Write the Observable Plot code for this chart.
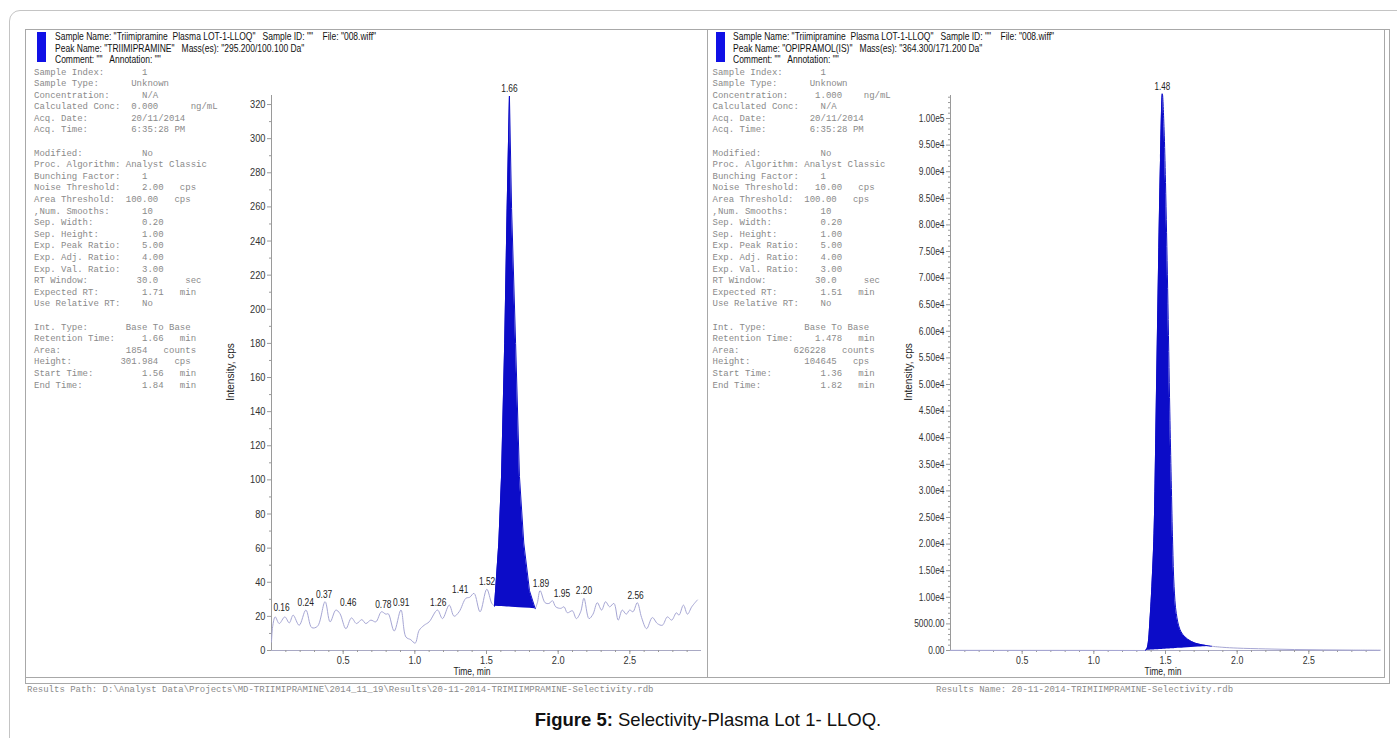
<!DOCTYPE html>
<html><head><meta charset="utf-8">
<script src="https://cdn.jsdelivr.net/npm/d3@7"></script>
<script src="https://cdn.jsdelivr.net/npm/@observablehq/plot@0.6"></script>
<style>
body{margin:0;background:#fff;overflow:hidden}
#root{position:relative;width:1397px;height:738px;overflow:hidden;font-family:"Liberation Sans",Arial,sans-serif}
.abs{position:absolute}
.frame{left:9px;top:10px;width:1420px;height:760px;border:1px solid #c4c4c4;border-radius:11px;box-sizing:border-box}
.box{border:1px solid #a8a8a8;box-sizing:border-box}
.blue{background:#1010e6}
.hdr{font-family:"Liberation Sans",sans-serif;font-size:10.5px;line-height:11.6px;color:#111;white-space:pre;transform:scaleX(0.81);transform-origin:0 0}
.mono{font-family:"Liberation Mono",monospace;font-size:9px;line-height:11.6px;color:#8a8a8a;white-space:pre}
.foot{font-family:"Liberation Mono",monospace;font-size:9px;color:#8a8a8a;white-space:pre}
.axl{font-family:"Liberation Sans",sans-serif;font-size:10px;color:#222;white-space:pre}
.cap{font-family:"Liberation Sans",Arial,sans-serif;font-size:18.5px;line-height:22px;color:#111;white-space:pre;width:1416px;text-align:center;left:0}
.plot{position:absolute}
</style></head>
<body><div id="root"></div>
<script>
// ---------- data ----------
// Left panel: TRIIMIPRAMINE trace (time, min / intensity, cps)
const leftPreTime = [0.000,0.008,0.026,0.054,0.093,0.124,0.151,0.193,0.240,0.281,0.321,0.374,0.409,0.449,0.477,0.519,0.558,0.593,0.630,0.658,0.693,0.728,0.767,0.798,0.815,0.856,0.903,0.938,0.972,1.002,1.030,1.065,1.100,1.158,1.193,1.240,1.274,1.309,1.356,1.383,1.413,1.455,1.502,1.537,1.556];
const leftPreInt  = [5,14,19.7,15.8,19.7,16.2,20.7,14.8,23.7,13.4,14.2,28.6,16.8,23.7,21.7,12.8,19.1,15.8,18.1,15.8,17.8,16.8,22.7,21.3,21.5,11.4,23.7,7.9,6.3,4.3,11.8,14.8,16.8,23.7,18.7,26.6,20.1,22.7,30.6,31.2,33.5,22.7,35.9,27.6,26];
const leftPeakTime = [1.556,1.586,1.605,1.627,1.644,1.660,1.675,1.703,1.730,1.760,1.800,1.840];
const leftPeakInt  = [26,63,102,180,259,325,259,180,102,63,35,24.5];
const leftPostTime = [1.840,1.855,1.874,1.909,1.937,1.960,1.983,2.018,2.041,2.064,2.099,2.127,2.157,2.180,2.215,2.243,2.273,2.303,2.331,2.359,2.389,2.419,2.447,2.475,2.499,2.522,2.552,2.582,2.617,2.657,2.692,2.727,2.762,2.792,2.825,2.843,2.874,2.902,2.932,2.971];
const leftPostInt  = [24.5,28,35.1,28,27.6,29.2,25.6,24.7,25.6,22.1,23.3,18.7,22.7,30.6,18.7,21.3,28,23.7,28.6,25.6,27.6,17.8,23.7,21.3,23.7,22.7,28,19.3,12.8,19.3,15.8,14.8,19.7,17.8,22.1,20.7,26.6,21.3,25.6,29.6];
const leftLabels      = ["0.16","0.24","0.37","0.46","0.78","0.91","1.26","1.41","1.52","1.66","1.89","1.95","2.20","2.56"];
const leftLabelTime   = [0.07,0.239,0.367,0.535,0.78,0.905,1.163,1.316,1.504,1.66,1.88,2.026,2.18,2.54];
const leftLabelLevel  = [20.7,23.7,28.6,23.7,22.7,23.7,23.7,31.2,35.9,325,35.1,29.2,30.6,28];
const leftYTicks = [0,20,40,60,80,100,120,140,160,180,200,220,240,260,280,300,320];

// Right panel: OPIPRAMOL(IS) trace
const rightPreTime = [0.0,0.5,1.0,1.36];
const rightPreInt  = [30,25,20,0];
const rightPeakTime = [1.36,1.37,1.38,1.39,1.405,1.42,1.435,1.45,1.465,1.478,1.49,1.50,1.515,1.53,1.54,1.55,1.56,1.575,1.60,1.63,1.68,1.73,1.79,1.82];
const rightPeakInt  = [0,300,1500,5000,12000,22000,45000,70000,92000,104645,98000,88000,68000,45000,32000,20000,12000,7000,4000,2700,1700,1200,900,800];
const rightPostTime = [1.82,1.90,2.00,2.20,2.40,2.60,2.80,3.00];
const rightPostInt  = [800,600,450,300,180,120,80,60];
const rightLabels     = ["1.48"];
const rightLabelTime  = [1.478];
const rightLabelLevel = [104645];
const rightYTicks = d3.range(0, 100001, 5000);

const xTicks = [0.5,1.0,1.5,2.0,2.5];
const xMinorTicks = d3.range(1, 30).map(i => i / 10);

// ---------- helpers ----------
const rows = (ts, vs) => ts.map((t, i) => ({t, v: vs[i]}));
const withBase = (ts, vs) => {
  const t0 = ts[0], t1 = ts[ts.length - 1], b0 = vs[0], b1 = vs[vs.length - 1];
  return ts.map((t, i) => ({t, v: vs[i], base: b0 + (b1 - b0) * (t - t0) / (t1 - t0)}));
};
const labelRows = (txt, ts, vs) => txt.map((s, i) => ({s, t: ts[i], v: vs[i]}));
const fmtRight = v => {
  if (v === 0) return "0.00";
  if (v < 10000) return v.toFixed(2);
  const e = Math.floor(Math.log10(v));
  return (v / Math.pow(10, e)).toFixed(2) + "e" + e;
};
// condense svg texts horizontally (source font is a narrow sans)
function condense(svg, k) {
  svg.querySelectorAll("text").forEach(t => {
    const tr = t.getAttribute("transform");
    if (tr && tr.includes("translate")) t.setAttribute("transform", tr + ` scale(${k},1)`);
  });
}

const TRACE = "#a6a6d4", PEAK = "#0c0cc8", AXIS = "#9a9a9a";
const tickFont = {fontFamily: '"Liberation Sans",sans-serif', fontSize: "11px", color: "#333", background: "transparent", overflow: "visible"};

const root = document.getElementById("root");
function add(cls, css, text) {
  const d = document.createElement("div");
  d.className = "abs " + cls;
  Object.assign(d.style, css);
  if (text != null) d.textContent = text;
  root.appendChild(d);
  return d;
}

// frames
add("frame", {});
add("box", {left: "25px", top: "29px", width: "1365px", height: "655px"});
add("box", {left: "25px", top: "29px", width: "683px", height: "649px"});
add("box", {left: "707px", top: "29px", width: "678px", height: "649px"});

// ---------- left plot ----------
const leftPlot = Plot.plot({
  width: 495, height: 605,
  marginLeft: 56, marginRight: 9, marginTop: 20, marginBottom: 30,
  x: {domain: [0, 3.0]},
  y: {domain: [0, 325.3]},
  style: tickFont,
  marks: [
    Plot.ruleX([0], {stroke: AXIS}),
    Plot.ruleY([0], {stroke: "#a9a9c4"}),
    Plot.axisY({ticks: leftYTicks, tickSize: 4, tickPadding: 2, stroke: AXIS, label: null, tickFormat: d => String(d)}),
    Plot.axisY({ticks: d3.range(10, 321, 20), tickSize: 2, text: null, stroke: AXIS, label: null}),
    Plot.axisX({ticks: xTicks, tickSize: 4, tickPadding: 2, stroke: AXIS, label: null, tickFormat: d => d.toFixed(1)}),
    Plot.axisX({ticks: xMinorTicks, tickSize: 2, text: null, stroke: AXIS, label: null}),
    Plot.line(rows(leftPreTime, leftPreInt), {x: "t", y: "v", stroke: TRACE, strokeWidth: 1, curve: "catmull-rom"}),
    Plot.line(rows(leftPostTime, leftPostInt), {x: "t", y: "v", stroke: TRACE, strokeWidth: 1, curve: "catmull-rom"}),
    Plot.areaY(withBase(leftPeakTime, leftPeakInt), {x: "t", y1: "base", y2: "v", fill: PEAK}),
    Plot.line(rows(leftPeakTime, leftPeakInt), {x: "t", y: "v", stroke: PEAK, strokeWidth: 1}),
    Plot.text(labelRows(leftLabels, leftLabelTime, leftLabelLevel), {x: "t", y: "v", text: "s", dy: -4, lineAnchor: "bottom", fill: "#222", fontSize: 10})
  ]
});
condense(leftPlot, 0.84);
leftPlot.classList.add("plot");
Object.assign(leftPlot.style, {left: "215px", top: "75px"});
root.appendChild(leftPlot);

// ---------- right plot ----------
const rightPlot = Plot.plot({
  width: 495, height: 605,
  marginLeft: 55, marginRight: 10, marginTop: 20, marginBottom: 30,
  x: {domain: [0, 3.0]},
  y: {domain: [0, 104323]},
  style: Object.assign({}, tickFont, {fontSize: "10.5px"}),
  marks: [
    Plot.ruleX([0], {stroke: AXIS}),
    Plot.ruleY([0], {stroke: "#a9a9c4"}),
    Plot.axisY({ticks: rightYTicks, tickSize: 4, tickPadding: 2, stroke: AXIS, label: null, tickFormat: fmtRight}),
    Plot.axisY({ticks: d3.range(1000, 104001, 1000).filter(v => v % 5000 !== 0), tickSize: 2, text: null, stroke: AXIS, label: null}),
    Plot.axisX({ticks: xTicks, tickSize: 4, tickPadding: 2, stroke: AXIS, label: null, tickFormat: d => d.toFixed(1), fontSize: 11}),
    Plot.axisX({ticks: xMinorTicks, tickSize: 2, text: null, stroke: AXIS, label: null}),
    Plot.line(rows(rightPreTime, rightPreInt), {x: "t", y: "v", stroke: TRACE, strokeWidth: 1}),
    Plot.line(rows(rightPostTime, rightPostInt), {x: "t", y: "v", stroke: TRACE, strokeWidth: 1, curve: "catmull-rom"}),
    Plot.areaY(withBase(rightPeakTime, rightPeakInt), {x: "t", y1: "base", y2: "v", fill: PEAK, curve: "catmull-rom"}),
    Plot.line(rows(rightPeakTime, rightPeakInt), {x: "t", y: "v", stroke: PEAK, strokeWidth: 1, curve: "catmull-rom"}),
    Plot.text(labelRows(rightLabels, rightLabelTime, rightLabelLevel), {x: "t", y: "v", text: "s", dy: -4, lineAnchor: "bottom", fill: "#222", fontSize: 10})
  ]
});
condense(rightPlot, 0.8);
rightPlot.classList.add("plot");
Object.assign(rightPlot.style, {left: "895px", top: "75px"});
root.appendChild(rightPlot);

// ---------- header texts ----------
add("blue", {left: "37px", top: "32px", width: "9px", height: "30px"});
add("blue", {left: "716px", top: "32px", width: "9px", height: "30px"});
add("hdr", {left: "55px", top: "31px"},
  'Sample Name: "Triimipramine  Plasma LOT-1-LLOQ"   Sample ID: ""    File: "008.wiff"\n' +
  'Peak Name: "TRIIMIPRAMINE"   Mass(es): "295.200/100.100 Da"\n' +
  'Comment: ""   Annotation: ""');
add("hdr", {left: "733px", top: "31px"},
  'Sample Name: "Triimipramine  Plasma LOT-1-LLOQ"   Sample ID: ""    File: "008.wiff"\n' +
  'Peak Name: "OPIPRAMOL(IS)"   Mass(es): "364.300/171.200 Da"\n' +
  'Comment: ""   Annotation: ""');

const leftInfo = [
"Sample Index:       1",
"Sample Type:      Unknown",
"Concentration:      N/A",
"Calculated Conc:  0.000      ng/mL",
"Acq. Date:        20/11/2014",
"Acq. Time:        6:35:28 PM",
"",
"Modified:           No",
"Proc. Algorithm: Analyst Classic",
"Bunching Factor:    1",
"Noise Threshold:    2.00   cps",
"Area Threshold:  100.00   cps",
",Num. Smooths:      10",
"Sep. Width:         0.20",
"Sep. Height:        1.00",
"Exp. Peak Ratio:    5.00",
"Exp. Adj. Ratio:    4.00",
"Exp. Val. Ratio:    3.00",
"RT Window:         30.0     sec",
"Expected RT:        1.71   min",
"Use Relative RT:    No",
"",
"Int. Type:       Base To Base",
"Retention Time:     1.66   min",
"Area:            1854   counts",
"Height:         301.984   cps",
"Start Time:         1.56   min",
"End Time:           1.84   min"];
const rightInfo = [
"Sample Index:       1",
"Sample Type:      Unknown",
"Concentration:     1.000    ng/mL",
"Calculated Conc:    N/A",
"Acq. Date:        20/11/2014",
"Acq. Time:        6:35:28 PM",
"",
"Modified:           No",
"Proc. Algorithm: Analyst Classic",
"Bunching Factor:    1",
"Noise Threshold:   10.00   cps",
"Area Threshold:  100.00   cps",
",Num. Smooths:      10",
"Sep. Width:         0.20",
"Sep. Height:        1.00",
"Exp. Peak Ratio:    5.00",
"Exp. Adj. Ratio:    4.00",
"Exp. Val. Ratio:    3.00",
"RT Window:         30.0     sec",
"Expected RT:        1.51   min",
"Use Relative RT:    No",
"",
"Int. Type:       Base To Base",
"Retention Time:    1.478   min",
"Area:          626228   counts",
"Height:          104645   cps",
"Start Time:         1.36   min",
"End Time:           1.82   min"];
add("mono", {left: "34px", top: "67.5px"}, leftInfo.join("\n"));
add("mono", {left: "712.5px", top: "67.5px"}, rightInfo.join("\n"));

// axis titles
add("axl", {left: "230px", top: "372px", transform: "translate(-50%,-50%) rotate(-90deg)"}, "Intensity, cps");
add("axl", {left: "908px", top: "372px", transform: "translate(-50%,-50%) rotate(-90deg)"}, "Intensity, cps");
add("axl", {left: "472px", top: "671px", transform: "translate(-50%,-50%) scaleX(0.85)"}, "Time, min");
add("axl", {left: "1163px", top: "671px", transform: "translate(-50%,-50%) scaleX(0.85)"}, "Time, min");

// footers
add("foot", {left: "27px", top: "685px"}, "Results Path: D:\\Analyst Data\\Projects\\MD-TRIIMIPRAMINE\\2014_11_19\\Results\\20-11-2014-TRIMIIMPRAMINE-Selectivity.rdb");
add("foot", {left: "936px", top: "685px"}, "Results Name: 20-11-2014-TRIMIIMPRAMINE-Selectivity.rdb");

// caption
const cap = add("cap", {top: "709px"});
cap.innerHTML = "<b>Figure 5:</b> Selectivity-Plasma Lot 1- LLOQ.";
</script>
</body></html>
